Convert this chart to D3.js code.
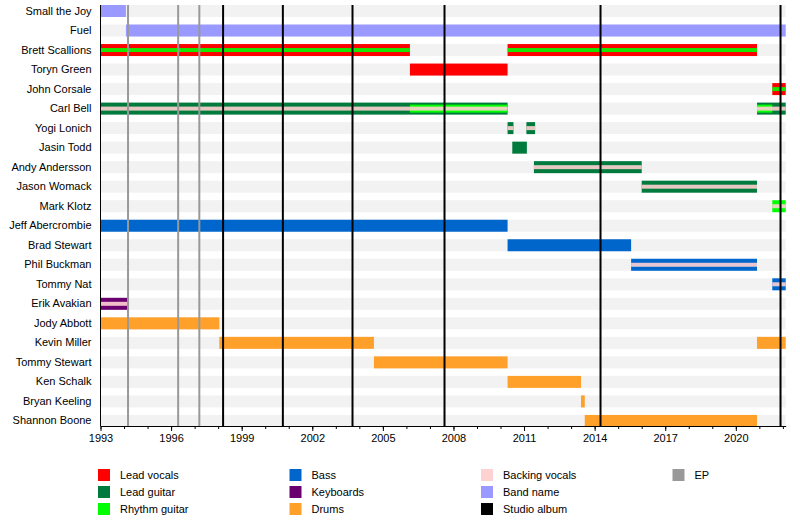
<!DOCTYPE html>
<html>
<head>
<meta charset="utf-8">
<script src="https://cdn.jsdelivr.net/npm/d3@7"></script>
<style>
  html, body { margin: 0; padding: 0; background: #fff; }
  svg { display: block; font-family: "Liberation Sans", Arial, sans-serif; }
</style>
</head>
<body>
<svg id="chart" width="800" height="525"></svg>
<script>
// ---------------- DATA ----------------
const START = 1993;
const END = 2022.12;

const members = [
  "Small the Joy", "Fuel", "Brett Scallions", "Toryn Green", "John Corsale",
  "Carl Bell", "Yogi Lonich", "Jasin Todd", "Andy Andersson", "Jason Womack",
  "Mark Klotz", "Jeff Abercrombie", "Brad Stewart", "Phil Buckman", "Tommy Nat",
  "Erik Avakian", "Jody Abbott", "Kevin Miller", "Tommy Stewart", "Ken Schalk",
  "Bryan Keeling", "Shannon Boone"
];

const roleIds    = ["lvocals", "lguitar", "rguitar", "bass", "keyboards", "drums", "bvocals", "band", "album", "ep"];
const roleLabels = ["Lead vocals", "Lead guitar", "Rhythm guitar", "Bass", "Keyboards", "Drums", "Backing vocals", "Band name", "Studio album", "EP"];
const roleColors = ["#ff0000", "#007a3d", "#00ff00", "#0066cc", "#6a006f", "#ffa02a", "#ffd2d2", "#9999ff", "#000000", "#999999"];

// main (full-height) bars: [member, role, from, till]
const mainBars = [
  ["Small the Joy", "band", 1993, 1994.08],
  ["Fuel", "band", 1994.08, END],
  ["Brett Scallions", "lvocals", 1993, 2006.15],
  ["Brett Scallions", "lvocals", 2010.3, 2020.9],
  ["Toryn Green", "lvocals", 2006.15, 2010.3],
  ["John Corsale", "lvocals", 2021.55, END],
  ["Carl Bell", "lguitar", 1993, 2010.3],
  ["Carl Bell", "lguitar", 2020.9, END],
  ["Yogi Lonich", "lguitar", 2010.3, 2010.55],
  ["Yogi Lonich", "lguitar", 2011.1, 2011.47],
  ["Jasin Todd", "lguitar", 2010.5, 2011.12],
  ["Andy Andersson", "lguitar", 2011.42, 2016.0],
  ["Jason Womack", "lguitar", 2016.0, 2020.9],
  ["Mark Klotz", "rguitar", 2021.55, END],
  ["Jeff Abercrombie", "bass", 1993, 2010.3],
  ["Brad Stewart", "bass", 2010.3, 2015.55],
  ["Phil Buckman", "bass", 2015.55, 2020.9],
  ["Tommy Nat", "bass", 2021.55, END],
  ["Erik Avakian", "keyboards", 1993, 1994.18],
  ["Jody Abbott", "drums", 1993, 1998.05],
  ["Kevin Miller", "drums", 1998.05, 2004.62],
  ["Kevin Miller", "drums", 2020.9, END],
  ["Tommy Stewart", "drums", 2004.62, 2010.3],
  ["Ken Schalk", "drums", 2010.3, 2013.42],
  ["Bryan Keeling", "drums", 2013.42, 2013.58],
  ["Shannon Boone", "drums", 2013.58, 2020.9]
];

// secondary (medium) bars
const midBars = [
  ["Carl Bell", "rguitar", 2006.15, 2010.3],
  ["Carl Bell", "rguitar", 2020.9, 2021.55]
];

// tertiary (thin stripe) bars
const stripeBars = [
  ["Brett Scallions", "rguitar", 1993, 2006.15],
  ["Brett Scallions", "rguitar", 2010.3, 2020.9],
  ["John Corsale", "rguitar", 2021.55, END],
  ["Carl Bell", "bvocals", 1993, 2010.3],
  ["Carl Bell", "bvocals", 2020.9, END],
  ["Yogi Lonich", "bvocals", 2010.3, 2010.55],
  ["Yogi Lonich", "bvocals", 2011.1, 2011.47],
  ["Andy Andersson", "bvocals", 2011.42, 2016.0],
  ["Jason Womack", "bvocals", 2016.0, 2020.9],
  ["Mark Klotz", "bvocals", 2021.55, END],
  ["Phil Buckman", "bvocals", 2015.55, 2020.9],
  ["Tommy Nat", "bvocals", 2021.55, END],
  ["Erik Avakian", "bvocals", 1993, 1994.18]
];

const epDates    = [1994.17, 1996.3, 1997.2];
const albumDates = [1998.21, 2000.75, 2003.71, 2007.62, 2014.25, 2021.9];

const majorTicks = [1993, 1996, 1999, 2002, 2005, 2008, 2011, 2014, 2017, 2020];
const minorTicks = d3.range(1993, 2023);

// ---------------- DRAW ----------------
const color = d3.scaleOrdinal().domain(roleIds).range(roleColors);
const svg = d3.select("#chart");

const x = d3.scaleLinear().domain([START, END]).range([100.5, 785.7]);
const y = d3.scaleBand().domain(members).range([5 - 3.76, 426 + 4.7]).padding(0);
const rowH = 12;
const plotTop = y(members[0]) + y.bandwidth() / 2 - rowH / 2;
const plotBottom = 426;

// background row bands
svg.append("g").selectAll("rect").data(members).join("rect")
  .attr("x", x(START)).attr("width", x(END) - x(START))
  .attr("y", d => y(d) + y.bandwidth() / 2 - rowH / 2)
  .attr("height", rowH)
  .attr("fill", "#f2f2f2");

function drawBars(data, h, opacity) {
  svg.append("g").selectAll("rect").data(data).join("rect")
    .attr("x", d => x(d[2]))
    .attr("width", d => Math.max(0, x(d[3]) - x(d[2])))
    .attr("y", d => y(d[0]) + y.bandwidth() / 2 - h / 2)
    .attr("height", h)
    .attr("fill", d => color(d[1]))
    .attr("fill-opacity", opacity);
}
drawBars(mainBars, 12, 1);
drawBars(midBars, 8, 1);
drawBars(stripeBars, 4, 0.9);

// event lines
svg.append("g").selectAll("line").data(epDates).join("line")
  .attr("x1", d => x(d)).attr("x2", d => x(d))
  .attr("y1", plotTop).attr("y2", plotBottom)
  .attr("stroke", color("ep")).attr("stroke-width", 2);
svg.append("g").selectAll("line").data(albumDates).join("line")
  .attr("x1", d => x(d)).attr("x2", d => x(d))
  .attr("y1", plotTop).attr("y2", plotBottom)
  .attr("stroke", color("album")).attr("stroke-width", 2);

// left axis with member names
const yAxis = svg.append("g").attr("transform", `translate(${x(START)},0)`)
  .call(d3.axisLeft(y).tickSize(0).tickPadding(9));
yAxis.select(".domain").remove();
yAxis.selectAll("text").attr("font-size", 11).attr("fill", "#000")
  .attr("font-family", "'Liberation Sans', Arial, sans-serif");
svg.append("line")
  .attr("x1", x(START)).attr("x2", x(START))
  .attr("y1", plotTop).attr("y2", plotBottom)
  .attr("stroke", "#000").attr("stroke-width", 1);

// bottom axis
const minorAxis = svg.append("g").attr("transform", `translate(0,${plotBottom})`)
  .call(d3.axisBottom(x).tickValues(minorTicks).tickSize(3).tickSizeOuter(0).tickFormat(""));
minorAxis.select(".domain").attr("stroke", "#000");
const majorAxis = svg.append("g").attr("transform", `translate(0,${plotBottom})`)
  .call(d3.axisBottom(x).tickValues(majorTicks).tickSize(5).tickSizeOuter(0).tickPadding(3).tickFormat(d3.format("d")));
majorAxis.select(".domain").remove();
majorAxis.selectAll("text").attr("font-size", 11).attr("fill", "#000")
  .attr("font-family", "'Liberation Sans', Arial, sans-serif");

// legend
const legendItems = roleIds.map((id, i) => ({ id, label: roleLabels[i], i }));
const legend = svg.append("g").selectAll("g").data(legendItems).join("g")
  .attr("transform", d => `translate(${98 + Math.floor(d.i / 3) * 191.5},${475 + (d.i % 3) * 17})`);
legend.append("rect")
  .attr("x", 0).attr("y", -6).attr("width", 12).attr("height", 12)
  .attr("fill", d => color(d.id));
legend.append("text")
  .attr("x", 22).attr("y", 0).attr("dy", "0.35em")
  .attr("font-size", 11).attr("fill", "#000")
  .text(d => d.label);
</script>
</body>
</html>
